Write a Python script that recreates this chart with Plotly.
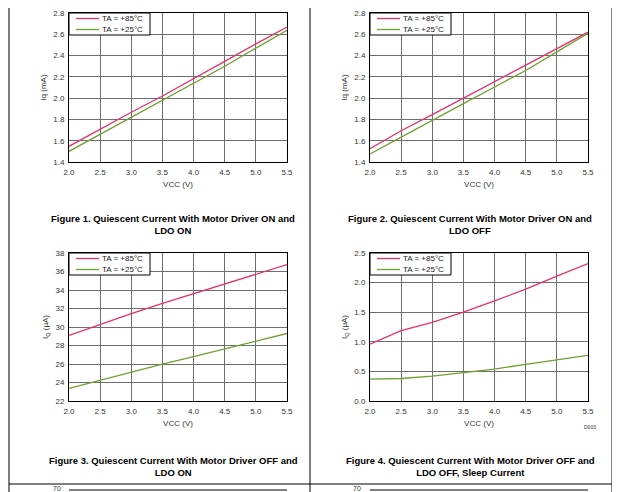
"""
Quiescent current curves (four datasheet figures) rebuilt with plotly.
"""

import plotly.graph_objects as go

# the page body has an 8px margin, so the figure is a bit smaller than the window
PAGE_W, PAGE_H, BODY = 620, 492, 8
W, H = PAGE_W - BODY, PAGE_H - BODY

VCC = [2.0, 2.5, 3.0, 3.5, 4.0, 4.5, 5.0, 5.5]

# Figure 1 - motor driver ON, LDO ON (mA)
FIG1_85C = [1.547, 1.71, 1.867, 2.02, 2.18, 2.345, 2.51, 2.668]
FIG1_25C = [1.50, 1.66, 1.82, 1.985, 2.14, 2.30, 2.47, 2.637]

# Figure 2 - motor driver ON, LDO OFF (mA)
FIG2_85C = [1.525, 1.694, 1.845, 2.0, 2.155, 2.31, 2.46, 2.62]
FIG2_25C = [1.475, 1.635, 1.795, 1.948, 2.105, 2.26, 2.435, 2.61]

# Figure 3 - motor driver OFF, LDO ON (uA)
FIG3_85C = [29.1, 30.3, 31.45, 32.55, 33.6, 34.7, 35.75, 36.75]
FIG3_25C = [23.36, 24.26, 25.1, 25.98, 26.8, 27.63, 28.5, 29.3]

# Figure 4 - motor driver OFF, LDO OFF, sleep (uA)
FIG4_85C = [0.96, 1.19, 1.33, 1.50, 1.69, 1.89, 2.11, 2.32]
FIG4_25C = [0.37, 0.38, 0.42, 0.48, 0.54, 0.62, 0.70, 0.77]

SERIES_NAMES = ["TA = +85°C", "TA = +25°C"]
COLORS = ["#e8306a", "#6f9f2f"]

X_TICKS = [2.0, 2.5, 3.0, 3.5, 4.0, 4.5, 5.0, 5.5]
Y_RANGES = [(1.4, 2.8), (1.4, 2.8), (22, 38), (0, 2.5)]
Y_DTICKS = [0.2, 0.2, 2, 0.5]
Y_TITLES = ["Iq (mA)", "Iq (mA)", "I<sub>Q</sub> (µA)", "I<sub>Q</sub> (µA)"]

CAPTIONS = [
    "Figure 1. Quiescent Current With Motor Driver ON and<br>LDO ON",
    "Figure 2. Quiescent Current With Motor Driver ON and<br>LDO OFF",
    "Figure 3. Quiescent Current With Motor Driver OFF and<br>LDO ON",
    "Figure 4. Quiescent Current With Motor Driver OFF and<br>LDO OFF, Sleep Current",
]

FONT = "Liberation Sans, Arial, sans-serif"


def px_x(x):
    # window pixel -> paper fraction
    return (x - BODY) / W


def px_y(y):
    return 1 - (y - BODY) / H


def paper_text(text, x, y, size, color="#333", xanchor="center"):
    return dict(text=text, x=px_x(x), y=px_y(y), xref="paper", yref="paper",
                xanchor=xanchor, yanchor="middle", showarrow=False, align="center",
                font=dict(size=size, color=color, family=FONT))


# plot boxes in window pixels: (left, top, right, bottom)
BOXES = [(69, 13, 287, 162), (370, 13, 588, 162),
         (69, 253, 287, 401), (370, 253, 588, 401)]
CAPTION_POS = [(173, 224), (470, 224), (173, 466), (470, 466)]

fig = go.Figure()
data = [(FIG1_85C, FIG1_25C), (FIG2_85C, FIG2_25C),
        (FIG3_85C, FIG3_25C), (FIG4_85C, FIG4_25C)]

layout = {}
annotations = []
shapes = []
for i, (hot, room) in enumerate(data):
    n = i + 1
    suffix = "" if n == 1 else str(n)
    left, top, right, bottom = BOXES[i]
    for values, name, color in zip((hot, room), SERIES_NAMES, COLORS):
        fig.add_trace(go.Scatter(
            x=VCC, y=values, name=name, mode="lines",
            line=dict(color=color, width=1.3),
            xaxis="x" + suffix, yaxis="y" + suffix,
            showlegend=False,
        ))
    axis_font = dict(size=8, color="#333", family=FONT)
    layout["xaxis" + suffix] = dict(
        domain=[px_x(left), px_x(right)], anchor="y" + suffix,
        range=[2.0, 5.5], tickvals=X_TICKS, ticktext=[f"{t:.1f}" for t in X_TICKS],
        showgrid=True, gridcolor="#6e6e6e", gridwidth=1,
        showline=True, linecolor="black", linewidth=1, mirror=True,
        ticks="", tickfont=axis_font, automargin=False, ticklabelstandoff=2,
        title=dict(text="VCC (V)", font=axis_font, standoff=5),
        zeroline=False,
    )
    y0, y1 = Y_RANGES[i]
    layout["yaxis" + suffix] = dict(
        domain=[px_y(bottom), px_y(top)], anchor="x" + suffix,
        range=[y0, y1], dtick=Y_DTICKS[i], tick0=y0,
        tickformat=".1f" if Y_DTICKS[i] < 1 else "d",
        showgrid=True, gridcolor="#6e6e6e", gridwidth=1,
        showline=True, linecolor="black", linewidth=1, mirror=True,
        ticks="", tickfont=axis_font, automargin=False, ticklabelstandoff=2,
        title=dict(text=Y_TITLES[i], font=axis_font, standoff=5),
        zeroline=False,
    )

    # small boxed legend in the top-left corner of each plot
    shapes.append(dict(type="rect", xref="paper", yref="paper",
                       x0=px_x(left), x1=px_x(left + 81), y0=px_y(top + 22), y1=px_y(top),
                       line=dict(color="black", width=1), fillcolor="white", layer="above"))
    for k, (name, color) in enumerate(zip(SERIES_NAMES, COLORS)):
        ly = top + 5.5 + 11 * k
        shapes.append(dict(type="line", xref="paper", yref="paper",
                           x0=px_x(left + 7), x1=px_x(left + 30), y0=px_y(ly), y1=px_y(ly),
                           line=dict(color=color, width=1.3), layer="above"))
        annotations.append(paper_text(name, left + 31, ly, 8, "#222", xanchor="left"))

    cx, cy = CAPTION_POS[i]
    annotations.append(paper_text("<b>" + CAPTIONS[i] + "</b>", cx, cy, 9.5, "black"))

# tiny graph id and the top of the next figures peeking in at the bottom
annotations.append(paper_text("D003", 590, 427, 5))
for lx in (57, 357):
    annotations.append(paper_text("70", lx, 488, 7))

frame = dict(type="line", xref="paper", yref="paper", line=dict(color="black", width=1))
shapes += [
    dict(frame, x0=px_x(9), x1=px_x(9), y0=0, y1=1),
    dict(frame, x0=px_x(310), x1=px_x(310), y0=0, y1=1),
    dict(frame, x0=px_x(612), x1=px_x(612), y0=0, y1=1),
    dict(frame, x0=px_x(9), x1=px_x(612), y0=px_y(484), y1=px_y(484)),
    dict(frame, x0=px_x(69), x1=px_x(287), y0=px_y(490), y1=px_y(490)),
    dict(frame, x0=px_x(370), x1=px_x(588), y0=px_y(490), y1=px_y(490)),
]

fig.update_layout(
    width=W, height=H,
    margin=dict(l=0, r=0, t=0, b=0),
    paper_bgcolor="white", plot_bgcolor="white",
    font=dict(family=FONT),
    annotations=annotations, shapes=shapes,
    **layout,
)

fig.write_html("out.html")
